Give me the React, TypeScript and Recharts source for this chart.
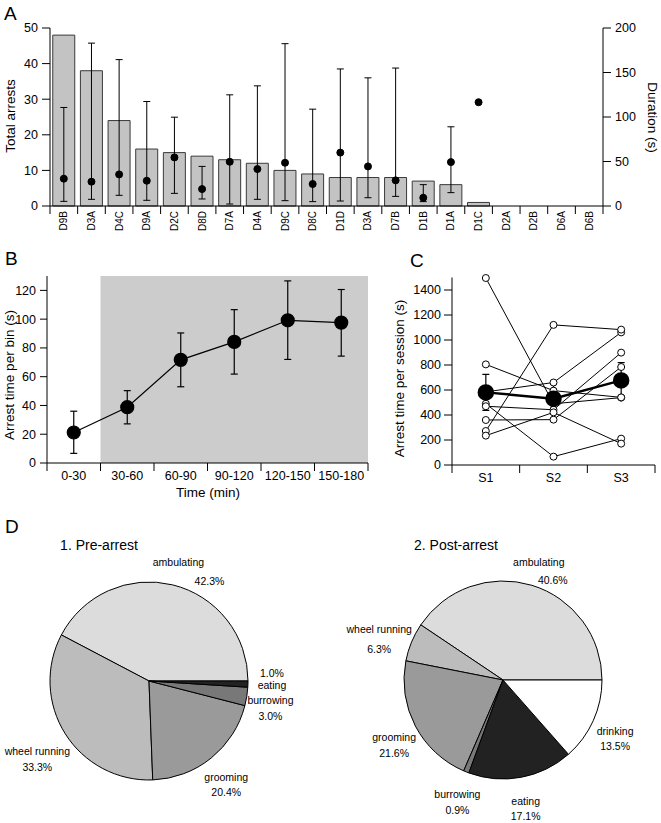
import React from 'react';
import {
  ComposedChart, LineChart, PieChart, Bar, Line, Pie, Cell, XAxis, YAxis, ErrorBar, ReferenceArea,
} from 'recharts';

const FONT = '"Liberation Sans", Arial, Helvetica, sans-serif';

// A: arrests per animal (left axis) and mean arrest duration with range (right axis)
const animals = ['D9B', 'D3A', 'D4C', 'D9A', 'D2C', 'D8D', 'D7A', 'D4A', 'D9C', 'D8C', 'D1D', 'D3A', 'D7B', 'D1B', 'D1A', 'D1C', 'D2A', 'D2B', 'D6A', 'D6B'];
const totalArrests = [48, 38, 24, 16, 15, 14, 13, 12, 10, 9, 8, 8, 8, 7, 6, 1, 0, 0, 0, 0];
const durationMean = [30.7, 27.3, 35.5, 28.4, 54.6, 19, 49.7, 41.5, 48.6, 24.7, 60, 44.5, 28.8, 9.3, 49.3, 116.6, null, null, null, null];
const durationLow = [5.2, 7.5, 12, 6.4, 14.2, 7.9, 2.2, 7.5, 6, 4.9, 5.6, 9.3, 10.8, 4.9, 15, null, null, null, null, null];
const durationHigh = [110.7, 183, 164.5, 117.4, 99.8, 44.5, 124.9, 135, 182.4, 108.8, 154, 144, 155, 24, 89, null, null, null, null, null];

// B: arrest time per 30-min bin
const bins = ['0-30', '30-60', '60-90', '90-120', '120-150', '150-180'];
const binArrest = [21.2, 38.8, 71.7, 84.2, 99.2, 97.6];
const binLow = [6.7, 27.2, 53, 61.8, 72, 74.3];
const binHigh = [36, 50.3, 90.4, 106.6, 126.6, 120.6];

// C: arrest time per session, one array per animal
const sessions = ['S1', 'S2', 'S3'];
const animal1 = [1496, 490, 539];
const animal2 = [805, 595, 541];
const animal3 = [585, 660, 1061];
const animal4 = [490, 67, 211];
const animal5 = [470, 442, 899];
const animal6 = [360, 363, 784];
const animal7 = [272, 1121, 1083];
const animal8 = [235, 421, 171];
const sessionMean = [581, 531, 677];
const sessionLow = [437, 415, 537];
const sessionHigh = [725, 648, 819];

// D: behaviour before / after arrests (%)
const preNames = ['ambulating', 'wheel running', 'grooming', 'burrowing', 'eating'];
const preValues = [42.3, 33.3, 20.4, 3.0, 1.0];
const postNames = ['ambulating', 'wheel running', 'grooming', 'burrowing', 'eating', 'drinking'];
const postValues = [40.6, 6.3, 21.6, 0.9, 17.1, 13.5];

const behaviourColor: Record<string, string> = {
  ambulating: '#dcdcdc',
  'wheel running': '#bcbcbc',
  grooming: '#9a9a9a',
  burrowing: '#787878',
  eating: '#222222',
  drinking: '#ffffff',
};

const arrestRows = animals.map((name, i) => ({
  i,
  arrests: totalArrests[i],
  dur: durationMean[i],
  durErr: durationMean[i] != null && durationLow[i] != null
    ? [durationMean[i]! - durationLow[i]!, durationHigh[i]! - durationMean[i]!]
    : null,
}));

const binRows = bins.map((bin, i) => ({
  bin,
  v: binArrest[i],
  err: [binArrest[i] - binLow[i], binHigh[i] - binArrest[i]],
}));

const animalsC = [animal1, animal2, animal3, animal4, animal5, animal6, animal7, animal8];
const sessionRows = sessions.map((s, i) => {
  const row: any = { s, mean: sessionMean[i], err: [sessionMean[i] - sessionLow[i], sessionHigh[i] - sessionMean[i]] };
  animalsC.forEach((a, k) => { row[`a${k}`] = a[i]; });
  return row;
});

const preRows = preNames.map((name, i) => ({ name, value: preValues[i] }));
const postRows = postNames.map((name, i) => ({ name, value: postValues[i] }));

const tickStyle = { fontSize: 12.5, fill: '#000', fontFamily: FONT };
const axisLine = { stroke: '#000', strokeWidth: 1 };

// tick marks sit on category boundaries, labels in the middle
const makeBandTick = (band: number, count: number, labelOf: (v: any) => string, rotated: boolean) => (props: any) => {
  const { x, y, payload, index } = props;
  const half = band / 2;
  const isLast = index === count - 1;
  return (
    <g>
      <line x1={x - half} x2={x - half} y1={y} y2={y + 8} stroke="#000" />
      {isLast && <line x1={x + half} x2={x + half} y1={y} y2={y + 8} stroke="#000" />}
      {rotated ? (
        <text x={x} y={y + 5} transform={`rotate(-90 ${x} ${y + 5})`} textAnchor="end" dominantBaseline="central"
          fontSize={10} fontFamily={FONT} fill="#000">{labelOf(payload.value)}</text>
      ) : (
        <text x={x} y={y + 12.5} textAnchor="middle" dominantBaseline="central"
          fontSize={12.5} fontFamily={FONT} fill="#000">{labelOf(payload.value)}</text>
      )}
    </g>
  );
};

const RADIAN = Math.PI / 180;
const labelNudge: Record<string, { dr?: number; pdx?: number; pdy?: number }> = {
  'pre:ambulating': { pdx: 31, pdy: 19 },
  'pre:wheel running': { dr: 9 },
  'pre:eating': { pdy: -11.5 },
  'post:ambulating': { pdx: 14, pdy: 18 },
  'post:wheel running': { dr: 11, pdy: 20 },
};

const makePieLabel = (pie: string) => (props: any) => {
  const { cx, cy, midAngle, outerRadius, name, value } = props;
  const nudge = labelNudge[`${pie}:${name}`] || {};
  const r = outerRadius + 24 + (nudge.dr || 0);
  const x = cx + r * Math.cos(-midAngle * RADIAN);
  const y = cy + r * Math.sin(-midAngle * RADIAN);
  const pdx = nudge.pdx ?? 0;
  const pdy = nudge.pdy ?? 15.5;
  return (
    <g>
      <text x={x} y={y} textAnchor="middle" dominantBaseline="central" fontSize={10.5} fontFamily={FONT} fill="#000">{name}</text>
      <text x={x + pdx} y={y + pdy} textAnchor="middle" dominantBaseline="central" fontSize={10.5} fontFamily={FONT} fill="#000">
        {`${Number(value).toFixed(1)}%`}
      </text>
    </g>
  );
};

const BAND_A = (661 - 50 - 58) / animals.length;
const BAND_B = (380 - 47 - 12) / bins.length;
const BAND_C = (271 - 62 - 6) / sessions.length;

export default function App() {
  return (
    <div style={{ position: 'absolute', left: 0, top: 0, width: 661, height: 823, background: '#fff', fontFamily: FONT }}>
      <div style={{ position: 'absolute', left: 0, top: 0 }}>
        <ComposedChart width={661} height={245} data={arrestRows} margin={{ top: 28, right: 0, bottom: 0, left: 0 }}>
          <XAxis dataKey="i" type="category" height={39} interval={0} tickSize={0} tickMargin={0} tickLine={false}
            axisLine={axisLine} tick={makeBandTick(BAND_A, animals.length, (v) => animals[v], true)} />
          <YAxis yAxisId="n" width={50} domain={[0, 50]} ticks={[0, 10, 20, 30, 40, 50]} tickSize={8} tickMargin={4}
            axisLine={axisLine} tickLine={axisLine} tick={tickStyle} />
          <YAxis yAxisId="d" orientation="right" width={58} domain={[0, 200]} ticks={[0, 50, 100, 150, 200]} tickSize={8} tickMargin={4}
            axisLine={axisLine} tickLine={axisLine} tick={tickStyle} />
          <Bar yAxisId="n" dataKey="arrests" fill="#c3c3c3" stroke="#3a3a3a" strokeWidth={1} barCategoryGap={2} isAnimationActive={false} />
          <Line yAxisId="d" dataKey="dur" stroke="none" dot={{ r: 3.5, fill: '#000', stroke: '#000' }} activeDot={false} isAnimationActive={false}>
            <ErrorBar dataKey="durErr" direction="y" width={3.5} stroke="#000" strokeWidth={1} />
          </Line>
        </ComposedChart>
      </div>

      <div style={{ position: 'absolute', left: 0, top: 260 }}>
        <LineChart width={380} height={240} data={binRows} margin={{ top: 16, right: 12, bottom: 0, left: 0 }}>
          <ReferenceArea x1="30-60" x2="150-180" y1={0} y2={130} fill="#cccccc" fillOpacity={1} stroke="none" />
          <XAxis dataKey="bin" scale="band" height={37} interval={0} tickSize={0} tickMargin={0} tickLine={false}
            axisLine={axisLine} tick={makeBandTick(BAND_B, bins.length, (v) => v, false)} />
          <YAxis width={47} domain={[0, 130]} ticks={[0, 20, 40, 60, 80, 100, 120]} tickSize={7} tickMargin={4}
            axisLine={axisLine} tickLine={axisLine} tick={tickStyle} />
          <Line dataKey="v" stroke="#000" strokeWidth={1.2} dot={{ r: 6.5, fill: '#000', stroke: '#000' }} activeDot={false} isAnimationActive={false}>
            <ErrorBar dataKey="err" direction="y" width={3.5} stroke="#000" strokeWidth={1.2} />
          </Line>
        </LineChart>
      </div>

      <div style={{ position: 'absolute', left: 390, top: 260 }}>
        <LineChart width={271} height={240} data={sessionRows} margin={{ top: 17.5, right: 6, bottom: 0, left: 0 }}>
          <XAxis dataKey="s" scale="band" height={35} interval={0} tickSize={0} tickMargin={0} tickLine={false}
            axisLine={axisLine} tick={makeBandTick(BAND_C, sessions.length, (v) => v, false)} />
          <YAxis width={62} domain={[0, 1500]} ticks={[0, 200, 400, 600, 800, 1000, 1200, 1400]} tickSize={8} tickMargin={3}
            axisLine={axisLine} tickLine={axisLine} tick={tickStyle} />
          {animalsC.map((_, k) => (
            <Line key={k} dataKey={`a${k}`} stroke="#000" strokeWidth={1} dot={{ r: 3.5, fill: '#fff', stroke: '#000', strokeWidth: 1 }}
              activeDot={false} isAnimationActive={false} />
          ))}
          <Line dataKey="mean" stroke="#000" strokeWidth={2.5} dot={{ r: 7, fill: '#000', stroke: '#000' }} activeDot={false} isAnimationActive={false}>
            <ErrorBar dataKey="err" direction="y" width={3.5} stroke="#000" strokeWidth={1.2} />
          </Line>
        </LineChart>
      </div>

      <div style={{ position: 'absolute', left: 0, top: 530 }}>
        <PieChart width={661} height={293} margin={{ top: 0, right: 0, bottom: 0, left: 0 }}>
          <Pie data={preRows} dataKey="value" nameKey="name" cx={149} cy={151} outerRadius={99} startAngle={0} endAngle={360}
            stroke="#000" strokeWidth={1} labelLine={false} label={makePieLabel('pre')} isAnimationActive={false}>
            {preRows.map((r) => <Cell key={r.name} fill={behaviourColor[r.name]} />)}
          </Pie>
          <Pie data={postRows} dataKey="value" nameKey="name" cx={503} cy={150} outerRadius={99} startAngle={0} endAngle={360}
            stroke="#000" strokeWidth={1} labelLine={false} label={makePieLabel('post')} isAnimationActive={false}>
            {postRows.map((r) => <Cell key={r.name} fill={behaviourColor[r.name]} />)}
          </Pie>
        </PieChart>
      </div>

      <svg width={661} height={823} style={{ position: 'absolute', left: 0, top: 0, pointerEvents: 'none' }} fontFamily={FONT}>
        <text x={4} y={20} fontSize={19}>A</text>
        <text x={5} y={265} fontSize={19}>B</text>
        <text x={410} y={267} fontSize={19}>C</text>
        <text x={5} y={533} fontSize={19}>D</text>
        <text x={10} y={116} transform="rotate(-90 10 116)" textAnchor="middle" dominantBaseline="central" fontSize={13.5}>Total arrests</text>
        <text x={652} y={117.5} transform="rotate(90 652 117.5)" textAnchor="middle" dominantBaseline="central" fontSize={13.5}>Duration (s)</text>
        <text x={9.5} y={375} transform="rotate(-90 9.5 375)" textAnchor="middle" dominantBaseline="central" fontSize={13.5}>Arrest time per bin (s)</text>
        <text x={399} y={378.5} transform="rotate(-90 399 378.5)" textAnchor="middle" dominantBaseline="central" fontSize={13.5}>Arrest time per session (s)</text>
        <text x={208} y={492} textAnchor="middle" dominantBaseline="central" fontSize={13.5}>Time (min)</text>
        <text x={99} y={545} textAnchor="middle" dominantBaseline="central" fontSize={14}>1. Pre-arrest</text>
        <text x={456} y={545} textAnchor="middle" dominantBaseline="central" fontSize={14}>2. Post-arrest</text>
      </svg>
    </div>
  );
}
